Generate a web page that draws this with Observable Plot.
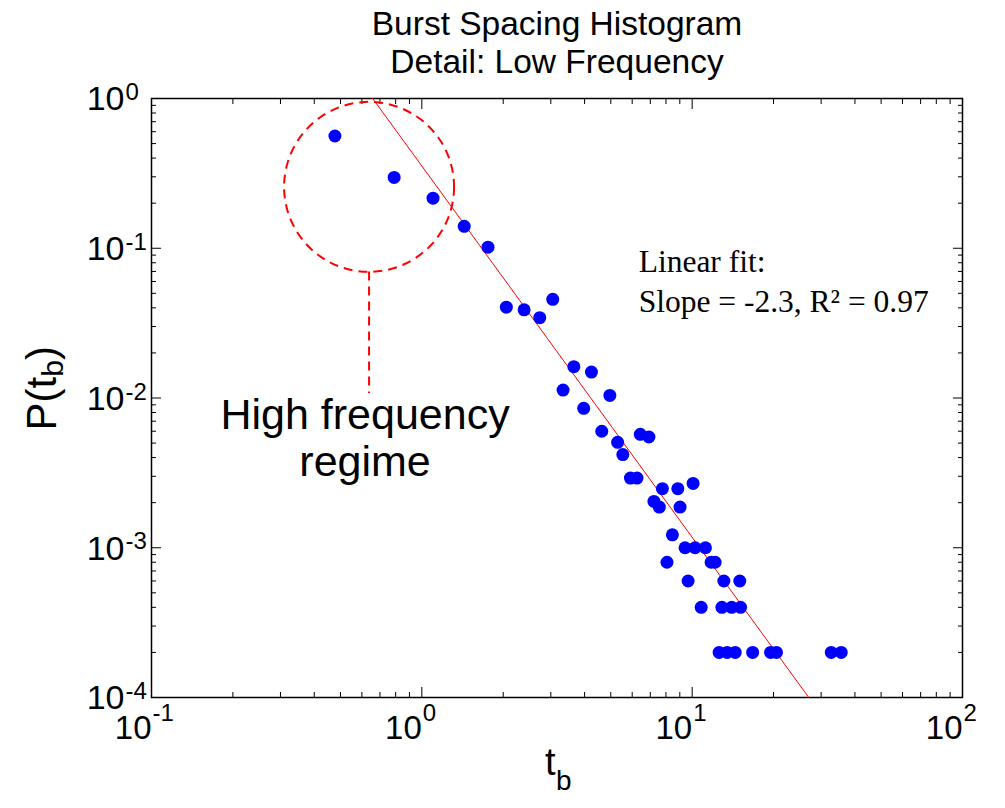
<!DOCTYPE html>
<html><head><meta charset="utf-8">
<script src="https://cdn.jsdelivr.net/npm/d3@7"></script>
<script src="https://cdn.jsdelivr.net/npm/@observablehq/plot@0.6"></script>
<style>
body{margin:0;background:#fff;}
#wrap{position:relative;width:1005px;height:808px;overflow:hidden;background:#fff;}
#wrap svg{position:absolute;left:0;top:0;}
.side-line{position:absolute;left:0;top:98px;width:2px;height:585px;background:#000;}
.side-dot{position:absolute;left:-6px;top:677px;width:13px;height:13px;border-radius:50%;background:#0000ff;}
.side-txt{position:absolute;left:-12px;top:690px;font:30px "Liberation Sans",Arial,sans-serif;color:#000;}
</style></head><body><div id="wrap"></div>
<script>
// ---- data ----
const burstSpacing = [0.477,0.79,1.10,1.435,1.757,2.054,2.39,2.73,3.05,3.65,4.24,3.33,4.96,3.97,4.63,6.43,6.92,5.30,5.54,5.91,6.25,7.76,8.85,10.08,7.22,7.56,9.02,8.45,9.41,10.25,11.2,8.07,11.75,12.16,9.66,13.1,15.0,10.8,12.88,14.0,15.1,12.58,13.47,14.43,16.74,19.5,20.5,32.7,35.6];
const probability = [0.562,0.297,0.216,0.140,0.1016,0.0404,0.0388,0.0344,0.0456,0.0162,0.0149,0.0113,0.0104,0.00853,0.0060,0.00572,0.00549,0.00506,0.00419,0.00292,0.00292,0.00248,0.00248,0.00269,0.00204,0.00187,0.00187,0.00122,0.001,0.001,0.001,0.0008,0.0008,0.0008,0.0006,0.0006,0.0006,0.0004,0.0004,0.0004,0.0004,0.0002,0.0002,0.0002,0.0002,0.0002,0.0002,0.0002,0.0002];
const fitSpacing = [0.658, 27.0];
const fitProbability = [1, 0.0001];
const xTickValues = [0.1, 1, 10, 100];
const xTickExponents = ["-1", "0", "1", "2"];
const yTickValues = [1, 0.1, 0.01, 0.001, 0.0001];
const yTickExponents = ["0", "-1", "-2", "-3", "-4"];
const minorMultipliers = [2,3,4,5,6,7,8,9];
const titleText = "Burst Spacing Histogram\nDetail: Low Frequency";
const fitText = "Linear fit:\nSlope = -2.3, R² = 0.97";
const regimeText = "High frequency\nregime";
const xLabelMain = "t", xLabelSub = "b";
const yLabelParts = ["P(t", "b", ")"];

// annotation anchors (data space)
const circleAnchor = {t: 0.638, p: 0.257};
const leaderStartP = 0.0695, leaderEndP = 0.0107;
const fitTextAnchor = {t: 6.34, p: 0.0958};

// ---- derived tables ----
const points = burstSpacing.map((t, i) => ({t, p: probability[i]}));
const fitLine = fitSpacing.map((t, i) => ({t, p: fitProbability[i]}));
const xMinor = [0.1, 1, 10].flatMap(d => minorMultipliers.map(m => d * m));
const yMinor = [0.0001, 0.001, 0.01, 0.1].flatMap(d => minorMultipliers.map(m => d * m));
const xTicks = xTickValues.map((v, i) => ({v, e: xTickExponents[i]}));
const yTicks = yTickValues.map((v, i) => ({v, e: yTickExponents[i]}));

const sans = "Liberation Sans, Arial, Helvetica, sans-serif";
const serif = "Liberation Serif, Times New Roman, serif";
const none = () => "";

const chart = Plot.plot({
  width: 1005, height: 808,
  marginLeft: 151, marginRight: 43, marginTop: 98, marginBottom: 111,
  style: {background: "white", overflow: "visible"},
  x: {type: "log", domain: [0.1, 100]},
  y: {type: "log", domain: [0.0001, 1]},
  marks: [
    // inward ticks on all four sides
    Plot.axisX(xTickValues, {anchor: "bottom", tickSize: -10, tickFormat: none, label: null}),
    Plot.axisX(xTickValues, {anchor: "top", tickSize: -10, tickFormat: none, label: null}),
    Plot.axisX(xMinor, {anchor: "bottom", tickSize: -5, tickFormat: none, label: null}),
    Plot.axisX(xMinor, {anchor: "top", tickSize: -5, tickFormat: none, label: null}),
    Plot.axisY(yTickValues, {anchor: "left", tickSize: -10, tickFormat: none, label: null}),
    Plot.axisY(yTickValues, {anchor: "right", tickSize: -10, tickFormat: none, label: null}),
    Plot.axisY(yMinor, {anchor: "left", tickSize: -5, tickFormat: none, label: null}),
    Plot.axisY(yMinor, {anchor: "right", tickSize: -5, tickFormat: none, label: null}),
    Plot.frame({stroke: "black", strokeWidth: 1.5}),
    // tick labels (base + exponent)
    Plot.text(xTicks, {x: "v", frameAnchor: "bottom", text: () => "10", textAnchor: "end", lineAnchor: "bottom", dy: 41, fontSize: 33, fontFamily: sans, fill: "black"}),
    Plot.text(xTicks, {x: "v", frameAnchor: "bottom", text: "e", textAnchor: "start", lineAnchor: "bottom", dx: 1, dy: 23, fontSize: 24, fontFamily: sans, fill: "black"}),
    Plot.text(yTicks, {y: "v", frameAnchor: "left", text: () => "10", textAnchor: "end", lineAnchor: "middle", dx: -27, dy: 1, fontSize: 34, fontFamily: sans, fill: "black"}),
    Plot.text(yTicks, {y: "v", frameAnchor: "left", text: "e", textAnchor: "start", lineAnchor: "middle", dx: -26, dy: -6, fontSize: 24, fontFamily: sans, fill: "black"}),
    // axis labels
    Plot.text([xLabelMain], {frameAnchor: "bottom", text: d => d, textAnchor: "end", lineAnchor: "bottom", dx: -1.5, dy: 77, fontSize: 38, fontFamily: sans, fill: "black"}),
    Plot.text([xLabelSub], {frameAnchor: "bottom", text: d => d, textAnchor: "start", lineAnchor: "bottom", dx: -1, dy: 92, fontSize: 28, fontFamily: sans, fill: "black"}),
    Plot.text([yLabelParts[0]], {frameAnchor: "left", text: d => d, rotate: -90, textAnchor: "start", lineAnchor: "middle", dx: -109.4, dy: 32.5, fontSize: 42, fontFamily: sans, fill: "black"}),
    Plot.text([yLabelParts[1]], {frameAnchor: "left", text: d => d, rotate: -90, textAnchor: "start", lineAnchor: "middle", dx: -98.6, dy: -21.2, fontSize: 30, fontFamily: sans, fill: "black"}),
    Plot.text([yLabelParts[2]], {frameAnchor: "left", text: d => d, rotate: -90, textAnchor: "start", lineAnchor: "middle", dx: -109.4, dy: -37.9, fontSize: 42, fontFamily: sans, fill: "black"}),
    // title
    Plot.text([titleText], {frameAnchor: "top", text: d => d, lineAnchor: "top", lineHeight: 1.14, dy: -91, fontSize: 33.5, fontFamily: sans, fill: "black"}),
    // high-frequency annotation
    Plot.dot([circleAnchor], {x: "t", y: "p", r: 85, fill: "none", stroke: "#ff0000", strokeWidth: 2, strokeDasharray: "9,6"}),
    Plot.ruleX([circleAnchor], {x: "t", y1: leaderStartP, y2: leaderEndP, stroke: "#ff0000", strokeWidth: 2, strokeDasharray: "9,6"}),
    Plot.text([circleAnchor], {x: "t", y: () => leaderEndP, text: () => regimeText, lineAnchor: "top", lineHeight: 1.1, dy: 2, dx: -4, fontSize: 43, fontFamily: sans, fill: "black"}),
    // fit line and data
    Plot.line(fitLine, {x: "t", y: "p", stroke: "#ff0000", strokeWidth: 1}),
    Plot.dot(points, {x: "t", y: "p", r: 6.5, fill: "#0000ff", stroke: "none"}),
    // fit text
    Plot.text([fitTextAnchor], {x: "t", y: "p", text: () => fitText, textAnchor: "start", lineAnchor: "top", lineHeight: 1.27, dy: -7, fontSize: 31.5, fontFamily: serif, fill: "black"})
  ]
});
const wrap = document.getElementById("wrap");
wrap.innerHTML = '<div class="side-line"></div><div class="side-dot"></div><div class="side-txt">1</div>';
wrap.appendChild(chart);
</script>
</body></html>
